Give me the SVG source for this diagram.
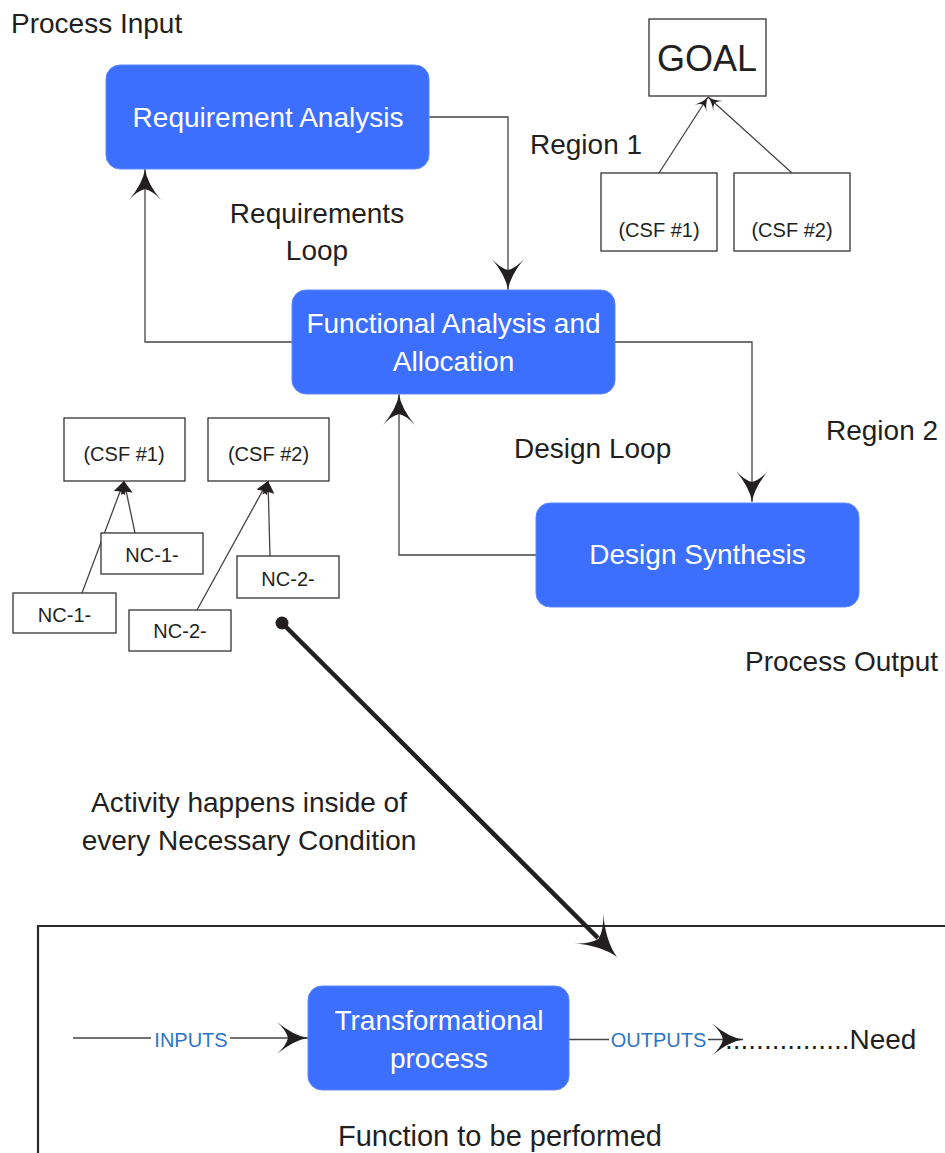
<svg xmlns="http://www.w3.org/2000/svg" width="945" height="1153" viewBox="0 0 945 1153">
<style>
  text { font-family: "Liberation Sans", Arial, sans-serif; fill: #231f20; }
  .t28 { font-size: 28px; }
  .w { fill: #ffffff; font-size: 28px; }
  .sm { font-size: 20px; }
  .blue { fill: #2f75c5; font-size: 20px; }
  .proc { fill: #3d6fff; stroke: #5f88ff; stroke-width: 1; }
  .box { fill: #ffffff; stroke: #333333; stroke-width: 1.3; }
  .conn { fill: none; stroke: #444444; stroke-width: 1.3; }
  .mid { text-anchor: middle; }
</style>
<defs>
  <marker id="arr" markerUnits="userSpaceOnUse" viewBox="-32 -17 34 34" markerWidth="34" markerHeight="34" refX="0" refY="0" orient="auto">
    <path d="M0,0 Q-14,-2 -31,-16 Q-22,-8 -20,0 Q-22,8 -31,16 Q-14,2 0,0 Z" fill="#231f20"/>
  </marker>
  <marker id="arrS" markerUnits="userSpaceOnUse" viewBox="-32 -17 34 34" markerWidth="15" markerHeight="15" refX="0" refY="0" orient="auto">
    <path d="M0,0 Q-14,-2 -31,-16 Q-22,-8 -20,0 Q-22,8 -31,16 Q-14,2 0,0 Z" fill="#231f20"/>
  </marker>
  <marker id="tri" markerUnits="userSpaceOnUse" viewBox="-14 -7 15 14" markerWidth="15" markerHeight="14" refX="0" refY="0" orient="auto">
    <path d="M0,0 L-13,-6 L-11,0 L-13,6 Z" fill="#231f20"/>
  </marker>
</defs>

<!-- frame -->
<path d="M38,1153 V926 H945" fill="none" stroke="#2a2a2a" stroke-width="2.2"/>

<!-- free labels -->
<text class="t28" x="11" y="33">Process Input</text>
<text class="t28 mid" x="317" y="223">Requirements</text>
<text class="t28 mid" x="317" y="260">Loop</text>
<text class="t28" x="530" y="154">Region 1</text>
<text class="t28" x="826" y="440">Region 2</text>
<text class="t28" x="514" y="458">Design Loop</text>
<text class="t28" x="745" y="671">Process Output</text>
<text class="t28 mid" x="249" y="812">Activity happens inside of</text>
<text class="t28 mid" x="249" y="850">every Necessary Condition</text>
<text class="mid" x="500" y="1146" style="font-size:29px">Function to be performed</text>
<text class="t28" x="725" y="1049">................Need</text>

<g id="connectors">
  <path class="conn" d="M429,117 H508 V290" marker-end="url(#arr)"/>
  <path class="conn" d="M292,342 H145 V169" marker-end="url(#arr)"/>
  <path class="conn" d="M615,342 H752 V502" marker-end="url(#arr)"/>
  <path class="conn" d="M536,555 H399 V394" marker-end="url(#arr)"/>
  <path class="conn" d="M659,173 L708,97" marker-end="url(#arrS)"/>
  <path class="conn" d="M792,173 L708,97" marker-end="url(#arrS)"/>
  <path class="conn" d="M135,533 L124,481" marker-end="url(#tri)"/>
  <path class="conn" d="M82,593 L124,481" marker-end="url(#tri)"/>
  <path class="conn" d="M270,556 L268,481" marker-end="url(#tri)"/>
  <path class="conn" d="M197,610 L268,481" marker-end="url(#tri)"/>
  <!-- big diagonal -->
  <circle cx="282" cy="623" r="6.5" fill="#231f20"/>
  <line x1="282" y1="623" x2="598" y2="938" stroke="#231f20" stroke-width="4.5"/>
  <path transform="translate(617,957) rotate(44.9) scale(1.3)" d="M0,0 Q-14,-2 -31,-16 Q-22,-8 -20,0 Q-22,8 -31,16 Q-14,2 0,0 Z" fill="#231f20"/>
  <!-- inputs / outputs -->
  <path class="conn" d="M73,1038 H308" marker-end="url(#arr)"/>
  <rect x="151" y="1026" width="79" height="25" fill="#ffffff"/>
  <text class="blue mid" x="191" y="1047">INPUTS</text>
  <path class="conn" d="M569,1039.5 H743" marker-end="url(#arr)"/>
  <rect x="609" y="1027" width="99" height="25" fill="#ffffff"/>
  <text class="blue mid" x="658.5" y="1047">OUTPUTS</text>
</g>

<g id="req-analysis">
  <rect class="proc" x="106" y="65" width="323" height="104" rx="14"/>
  <text class="w mid" x="268" y="127">Requirement Analysis</text>
</g>
<g id="func-analysis">
  <rect class="proc" x="292" y="290" width="323" height="104" rx="14"/>
  <text class="w mid" x="453.5" y="333">Functional Analysis and</text>
  <text class="w mid" x="453.5" y="371">Allocation</text>
</g>
<g id="design-synthesis">
  <rect class="proc" x="536" y="503" width="323" height="104" rx="14"/>
  <text class="w mid" x="697.5" y="564">Design Synthesis</text>
</g>
<g id="transformational">
  <rect class="proc" x="308" y="986" width="261" height="104" rx="14"/>
  <text class="w mid" x="439" y="1030">Transformational</text>
  <text class="w mid" x="439" y="1068">process</text>
</g>
<g id="goal">
  <rect class="box" x="649" y="19" width="117" height="77"/>
  <text class="mid" x="707" y="71" style="font-size:36px">GOAL</text>
</g>
<g id="csf1-top">
  <rect class="box" x="601" y="173" width="116" height="78"/>
  <text class="sm mid" x="659" y="237">(CSF #1)</text>
</g>
<g id="csf2-top">
  <rect class="box" x="734" y="173" width="116" height="78"/>
  <text class="sm mid" x="792" y="237">(CSF #2)</text>
</g>
<g id="csf1-left">
  <rect class="box" x="64" y="418" width="121" height="63"/>
  <text class="sm mid" x="124" y="461">(CSF #1)</text>
</g>
<g id="csf2-left">
  <rect class="box" x="208" y="418" width="121" height="63"/>
  <text class="sm mid" x="268.5" y="461">(CSF #2)</text>
</g>
<g id="nc1-a">
  <rect class="box" x="101" y="533" width="102" height="41"/>
  <text class="sm mid" x="152" y="562">NC-1-</text>
</g>
<g id="nc1-b">
  <rect class="box" x="13" y="593" width="103" height="40"/>
  <text class="sm mid" x="64.5" y="622">NC-1-</text>
</g>
<g id="nc2-a">
  <rect class="box" x="237" y="556" width="102" height="42"/>
  <text class="sm mid" x="288" y="586">NC-2-</text>
</g>
<g id="nc2-b">
  <rect class="box" x="129" y="610" width="102" height="41"/>
  <text class="sm mid" x="180" y="638">NC-2-</text>
</g>
</svg>
